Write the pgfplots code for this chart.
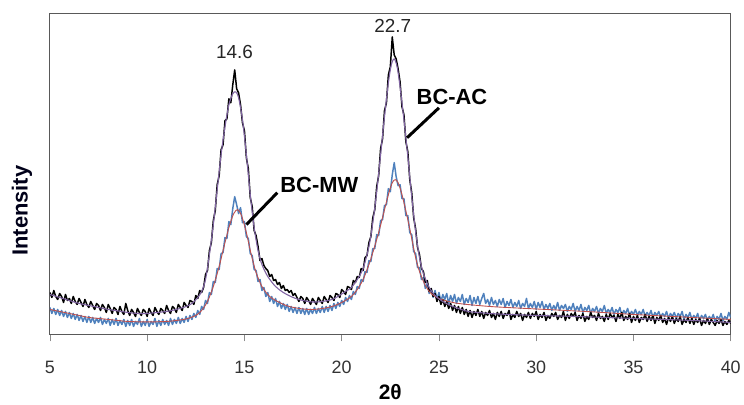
\documentclass[border=0pt]{standalone}
\usepackage{pgfplots}
\pgfplotsset{compat=1.18}
\usepackage{fontspec}
\setmainfont{Liberation Sans}
\definecolor{rawblue}{HTML}{4F81BD}
\definecolor{fitred}{HTML}{C0504D}
\definecolor{fitpurple}{HTML}{8064A2}
\begin{document}
\begin{tikzpicture}
\begin{axis}[
  at={(0,0)}, anchor=south west,
  scale only axis, width=682bp, height=322bp,
  xmin=5, xmax=40, ymin=0, ymax=322,
  xtick={5,10,...,40}, ytick=\empty,
  tick pos=bottom, tick align=outside,
  major tick length=7bp,
  tick style={black!45, line width=0.8pt},
  axis line style={black!65, line width=0.9pt},
  tick label style={font=\fontsize{18}{20}\selectfont, text=black!80},
  xticklabel style={yshift=-16bp},
  /pgf/number format/assume math mode=true,
  xlabel={\textbf{2θ}},
  xlabel style={at={(axis description cs:0.5,0)}, anchor=center, yshift=-58bp,
    font=\fontsize{21}{24}\selectfont},
  ylabel={\textbf{Intensity}},
  ylabel style={at={(axis description cs:0,0.385)}, anchor=center, yshift=28bp,
    font=\fontsize{22}{24}\selectfont, text=black!90!blue},
  clip=true,
]
% BC-MW raw
\addplot[rawblue, line width=1.5pt, line join=round] coordinates {
(5.0,27)(5.1,21)(5.2,26)(5.3,20)(5.4,25)(5.5,19)(5.6,24)(5.7,18)(5.8,23)(5.9,17)
(6.0,22)(6.1,16)(6.2,21)(6.3,15)(6.4,20)(6.5,14)(6.6,19)(6.7,13)(6.8,18)(6.9,12)
(7.0,18)(7.1,12)(7.2,17)(7.3,11)(7.4,16)(7.5,12)(7.6,17)(7.7,10)(7.8,15)(7.9,11)
(8.0,16)(8.1,9)(8.2,15)(8.3,10)(8.4,16)(8.5,9)(8.6,14)(8.7,10)(8.8,15)(8.9,8)
(9.0,14)(9.1,9)(9.2,15)(9.3,8)(9.4,13)(9.5,10)(9.6,16)(9.7,8)(9.8,13)(9.9,9)
(10.0,15)(10.1,8)(10.2,13)(10.3,10)(10.4,16)(10.5,8)(10.6,14)(10.7,9)(10.8,15)(10.9,10)
(11.0,14)(11.1,9)(11.2,16)(11.3,10)(11.4,15)(11.5,11)(11.6,17)(11.7,11)(11.8,16)(11.9,12)
(12.0,18)(12.1,13)(12.2,19)(12.3,15)(12.4,21)(12.5,17)(12.6,24)(12.7,20)(12.8,28)(12.9,25)
(13.0,34)(13.1,31)(13.2,42)(13.3,40)(13.4,53)(13.5,52)(13.6,66)(13.7,65)(13.8,81)(13.9,82)
(14.0,97)(14.1,96)(14.2,113)(14.3,110)(14.4,126)(14.5,138)(14.6,130)(14.7,121)(14.8,127)(14.9,112)
(15.0,113)(15.1,98)(15.2,96)(15.3,81)(15.4,79)(15.5,65)(15.6,64)(15.7,53)(15.8,55)(15.9,44)
(16.0,47)(16.1,38)(16.2,42)(16.3,33)(16.4,38)(16.5,31)(16.6,36)(16.7,28)(16.8,33)(16.9,26)
(17.0,31)(17.1,25)(17.2,30)(17.3,23)(17.4,28)(17.5,22)(17.6,27)(17.7,21)(17.8,27)(17.9,21)
(18.0,26)(18.1,20)(18.2,26)(18.3,20)(18.4,25)(18.5,21)(18.6,27)(18.7,21)(18.8,26)(18.9,22)
(19.0,28)(19.1,22)(19.2,28)(19.3,23)(19.4,29)(19.5,24)(19.6,31)(19.7,26)(19.8,32)(19.9,28)
(20.0,34)(20.1,30)(20.2,37)(20.3,33)(20.4,39)(20.5,35)(20.6,43)(20.7,40)(20.8,48)(20.9,46)
(21.0,55)(21.1,53)(21.2,63)(21.3,62)(21.4,74)(21.5,73)(21.6,86)(21.7,86)(21.8,100)(21.9,99)
(22.0,114)(22.1,115)(22.2,129)(22.3,130)(22.4,146)(22.5,143)(22.6,160)(22.7,172)(22.8,158)(22.9,149)
(23.0,150)(23.1,136)(23.2,136)(23.3,119)(23.4,119)(23.5,102)(23.6,100)(23.7,83)(23.8,81)(23.9,67)
(24.0,67)(24.1,55)(24.2,57)(24.3,46)(24.4,51)(24.5,41)(24.6,46)(24.7,37)(24.8,44)(24.9,35)
(25.0,42)(25.1,33)(25.2,40)(25.3,35)(25.4,41)(25.5,31)(25.6,39)(25.7,33)(25.8,40)(25.9,31)
(26.0,37)(26.1,33)(26.2,40)(26.3,30)(26.4,36)(26.5,32)(26.6,39)(26.7,29)(26.8,37)(26.9,31)
(27.0,38)(27.1,30)(27.2,36)(27.3,41)(27.4,31)(27.5,35)(27.6,29)(27.7,37)(27.8,30)(27.9,34)
(28.0,28)(28.1,35)(28.2,30)(28.3,36)(28.4,27)(28.5,33)(28.6,29)(28.7,35)(28.8,27)(28.9,32)
(29.0,28)(29.1,34)(29.2,26)(29.3,31)(29.4,28)(29.5,36)(29.6,26)(29.7,31)(29.8,27)(29.9,33)
(30.0,25)(30.1,32)(30.2,27)(30.3,33)(30.4,25)(30.5,30)(30.6,26)(30.7,31)(30.8,24)(30.9,29)
(31.0,25)(31.1,32)(31.2,24)(31.3,29)(31.4,26)(31.5,30)(31.6,23)(31.7,28)(31.8,25)(31.9,31)
(32.0,23)(32.1,28)(32.2,24)(32.3,30)(32.4,22)(32.5,27)(32.6,24)(32.7,29)(32.8,21)(32.9,26)
(33.0,23)(33.1,28)(33.2,21)(33.3,26)(33.4,23)(33.5,29)(33.6,21)(33.7,25)(33.8,22)(33.9,27)
(34.0,20)(34.1,25)(34.2,22)(34.3,27)(34.4,19)(34.5,24)(34.6,21)(34.7,26)(34.8,19)(34.9,23)
(35.0,20)(35.1,25)(35.2,19)(35.3,23)(35.4,20)(35.5,25)(35.6,18)(35.7,22)(35.8,19)(35.9,24)
(36.0,17)(36.1,22)(36.2,19)(36.3,23)(36.4,17)(36.5,21)(36.6,18)(36.7,23)(36.8,16)(36.9,21)
(37.0,18)(37.1,22)(37.2,16)(37.3,21)(37.4,18)(37.5,23)(37.6,15)(37.7,20)(37.8,17)(37.9,22)
(38.0,15)(38.1,19)(38.2,16)(38.3,21)(38.4,14)(38.5,19)(38.6,16)(38.7,20)(38.8,14)(38.9,18)
(39.0,15)(39.1,20)(39.2,13)(39.3,18)(39.4,15)(39.5,21)(39.6,14)(39.7,18)(39.8,15)(39.9,22)
(40.0,17)};
% BC-AC raw
\addplot[black, line width=1.5pt, line join=round] coordinates {
(5.0,42)(5.1,37)(5.2,44)(5.3,38)(5.4,35)(5.5,41)(5.6,38)(5.7,32)(5.8,40)(5.9,34)
(6.0,36)(6.1,31)(6.2,38)(6.3,33)(6.4,30)(6.5,36)(6.6,32)(6.7,28)(6.8,35)(6.9,30)
(7.0,27)(7.1,33)(7.2,29)(7.3,25)(7.4,31)(7.5,29)(7.6,24)(7.7,30)(7.8,27)(7.9,22)
(8.0,30)(8.1,26)(8.2,21)(8.3,27)(8.4,25)(8.5,20)(8.6,28)(8.7,23)(8.8,20)(8.9,31)
(9.0,24)(9.1,19)(9.2,25)(9.3,22)(9.4,18)(9.5,26)(9.6,22)(9.7,19)(9.8,25)(9.9,23)
(10.0,18)(10.1,26)(10.2,22)(10.3,19)(10.4,27)(10.5,23)(10.6,20)(10.7,26)(10.8,24)(10.9,21)
(11.0,29)(11.1,24)(11.2,21)(11.3,28)(11.4,26)(11.5,22)(11.6,30)(11.7,27)(11.8,24)(11.9,32)
(12.0,29)(12.1,27)(12.2,34)(12.3,33)(12.4,30)(12.5,39)(12.6,36)(12.7,44)(12.8,42)(12.9,47)
(13.0,60)(13.1,64)(13.2,84)(13.3,92)(13.4,114)(13.5,124)(13.6,150)(13.7,159)(13.8,185)(13.9,190)
(14.0,214)(14.1,216)(14.2,236)(14.3,232)(14.4,250)(14.5,265)(14.6,246)(14.7,242)(14.8,230)(14.9,212)
(15.0,204)(15.1,177)(15.2,166)(15.3,137)(15.4,128)(15.5,104)(15.6,99)(15.7,88)(15.8,74)(15.9,76)
(16.0,69)(16.1,66)(16.2,64)(16.3,58)(16.4,60)(16.5,54)(16.6,55)(16.7,50)(16.8,52)(16.9,46)
(17.0,49)(17.1,44)(17.2,45)(17.3,42)(17.4,44)(17.5,39)(17.6,41)(17.7,37)(17.8,33)(17.9,38)
(18.0,36)(18.1,31)(18.2,37)(18.3,34)(18.4,30)(18.5,36)(18.6,33)(18.7,30)(18.8,37)(18.9,34)
(19.0,31)(19.1,38)(19.2,35)(19.3,32)(19.4,39)(19.5,37)(19.6,34)(19.7,41)(19.8,40)(19.9,37)
(20.0,45)(20.1,43)(20.2,40)(20.3,48)(20.4,47)(20.5,45)(20.6,54)(20.7,52)(20.8,58)(20.9,57)
(21.0,66)(21.1,64)(21.2,77)(21.3,79)(21.4,92)(21.5,98)(21.6,117)(21.7,125)(21.8,148)(21.9,159)
(22.0,186)(22.1,196)(22.2,224)(22.3,232)(22.4,260)(22.5,268)(22.6,298)(22.7,280)(22.8,276)(22.9,266)
(23.0,253)(23.1,228)(23.2,220)(23.3,193)(23.4,183)(23.5,155)(23.6,142)(23.7,117)(23.8,106)(23.9,87)
(24.0,80)(24.1,66)(24.2,63)(24.3,52)(24.4,54)(24.5,43)(24.6,46)(24.7,38)(24.8,41)(24.9,33)
(25.0,38)(25.1,30)(25.2,35)(25.3,28)(25.4,33)(25.5,26)(25.6,31)(25.7,24)(25.8,29)(25.9,22)
(26.0,28)(26.1,21)(26.2,27)(26.3,20)(26.4,25)(26.5,18)(26.6,24)(26.7,17)(26.8,23)(26.9,19)
(27.0,25)(27.1,18)(27.2,23)(27.3,16)(27.4,22)(27.5,19)(27.6,24)(27.7,17)(27.8,21)(27.9,15)
(28.0,22)(28.1,18)(28.2,23)(28.3,16)(28.4,21)(28.5,19)(28.6,24)(28.7,15)(28.8,20)(28.9,17)
(29.0,23)(29.1,18)(29.2,21)(29.3,14)(29.4,20)(29.5,17)(29.6,22)(29.7,16)(29.8,21)(29.9,18)
(30.0,23)(30.1,15)(30.2,20)(30.3,17)(30.4,22)(30.5,14)(30.6,19)(30.7,16)(30.8,21)(30.9,18)
(31.0,22)(31.1,15)(31.2,19)(31.3,17)(31.4,23)(31.5,14)(31.6,20)(31.7,16)(31.8,21)(31.9,18)
(32.0,22)(32.1,14)(32.2,19)(32.3,16)(32.4,21)(32.5,13)(32.6,18)(32.7,15)(32.8,22)(32.9,17)
(33.0,19)(33.1,14)(33.2,21)(33.3,16)(33.4,18)(33.5,13)(33.6,20)(33.7,15)(33.8,21)(33.9,17)
(34.0,19)(34.1,13)(34.2,20)(34.3,16)(34.4,22)(34.5,14)(34.6,18)(34.7,15)(34.8,21)(34.9,12)
(35.0,18)(35.1,14)(35.2,19)(35.3,12)(35.4,17)(35.5,15)(35.6,20)(35.7,13)(35.8,18)(35.9,14)
(36.0,19)(36.1,11)(36.2,17)(36.3,14)(36.4,19)(36.5,12)(36.6,16)(36.7,10)(36.8,17)(36.9,13)
(37.0,18)(37.1,11)(37.2,16)(37.3,13)(37.4,18)(37.5,10)(37.6,15)(37.7,12)(37.8,17)(37.9,11)
(38.0,16)(38.1,10)(38.2,15)(38.3,12)(38.4,16)(38.5,9)(38.6,14)(38.7,11)(38.8,16)(38.9,10)
(39.0,15)(39.1,12)(39.2,9)(39.3,14)(39.4,11)(39.5,15)(39.6,9)(39.7,13)(39.8,10)(39.9,14)
(40.0,11)};
% BC-MW fit
\addplot[fitred, line width=0.9pt, smooth] coordinates {
(5,25)(5.5,23)(6,21)(6.5,19)(7,17)(7.5,16)(8,15)(8.5,14)(9,13)(10,12.5)(11,13)(11.5,14)
(12,15.5)(12.5,19)(12.8,24)(13.1,33)(13.4,48)(13.7,68)(13.9,84)(14.2,107)(14.45,121)
(14.65,125)(14.85,119)(15.1,102)(15.35,80)(15.6,62)(15.9,48)(16.3,38)(16.8,32)(17.3,28)
(18,25.5)(18.5,25)(19,26)(19.5,28)(20,32)(20.5,38)(20.8,45)(21.1,55)(21.4,70)(21.6,82)
(21.9,102)(22.1,117)(22.4,140)(22.6,152)(22.75,155)(22.9,152)(23.1,140)(23.4,115)(23.6,96)
(23.8,77)(24,63)(24.3,49)(24.6,41)(25,36)(25.5,33)(26,31)(27,29)(28,27.5)(30,25.5)
(33,22.5)(35,20)(37,18)(40,15)};
% BC-AC fit
\addplot[fitpurple, line width=1.1pt, smooth] coordinates {
(5,40)(5.5,37)(6,34)(6.5,31)(7,29)(7.5,27)(8,25)(8.5,23.5)(9,22)(9.5,21)(10,21)(10.5,22)
(11,23)(11.5,25)(12,28)(12.3,31)(12.6,37)(12.8,43)(13,55)(13.2,80)(13.4,110)(13.6,145)
(13.8,180)(14,208)(14.2,230)(14.4,241)(14.55,243)(14.7,237)(14.9,215)(15.1,180)(15.3,140)
(15.5,107)(15.7,84)(15.9,70)(16.2,58)(16.6,48)(17,42)(17.5,37)(18,34)(18.5,32.5)(19,33)
(19.5,35)(19.8,38)(20.2,43)(20.5,47)(20.8,55)(21.1,66)(21.4,88)(21.6,112)(21.8,143)
(22,180)(22.2,218)(22.4,252)(22.55,270)(22.7,276)(22.85,268)(23,248)(23.2,215)(23.4,178)
(23.6,138)(23.8,103)(24,77)(24.2,61)(24.5,47)(24.8,39)(25.2,33)(25.6,29)(26,26)(26.5,23)
(27,22)(28,20.5)(30,19)(32,18)(35,16)(38,14)(40,12)};
% peak labels and leaders
\node[font=\fontsize{19}{21}\selectfont, text=black!85] at (axis cs:14.49,283) {14.6};
\node[font=\fontsize{19}{21}\selectfont, text=black!85] at (axis cs:22.63,309) {22.7};
\node[font=\bfseries\fontsize{22}{24}\selectfont] at (axis cs:18.85,150) {BC-MW};
\node[font=\bfseries\fontsize{22}{24}\selectfont] at (axis cs:25.67,238) {BC-AC};
\draw[black, line width=3pt] (axis cs:16.69,142) -- (axis cs:15.10,110);
\draw[black, line width=3pt] (axis cs:25.0,227) -- (axis cs:23.36,197);
\end{axis}
\path[use as bounding box] (-50bp,-70bp) rectangle (694bp,335bp);
\end{tikzpicture}
\end{document}
